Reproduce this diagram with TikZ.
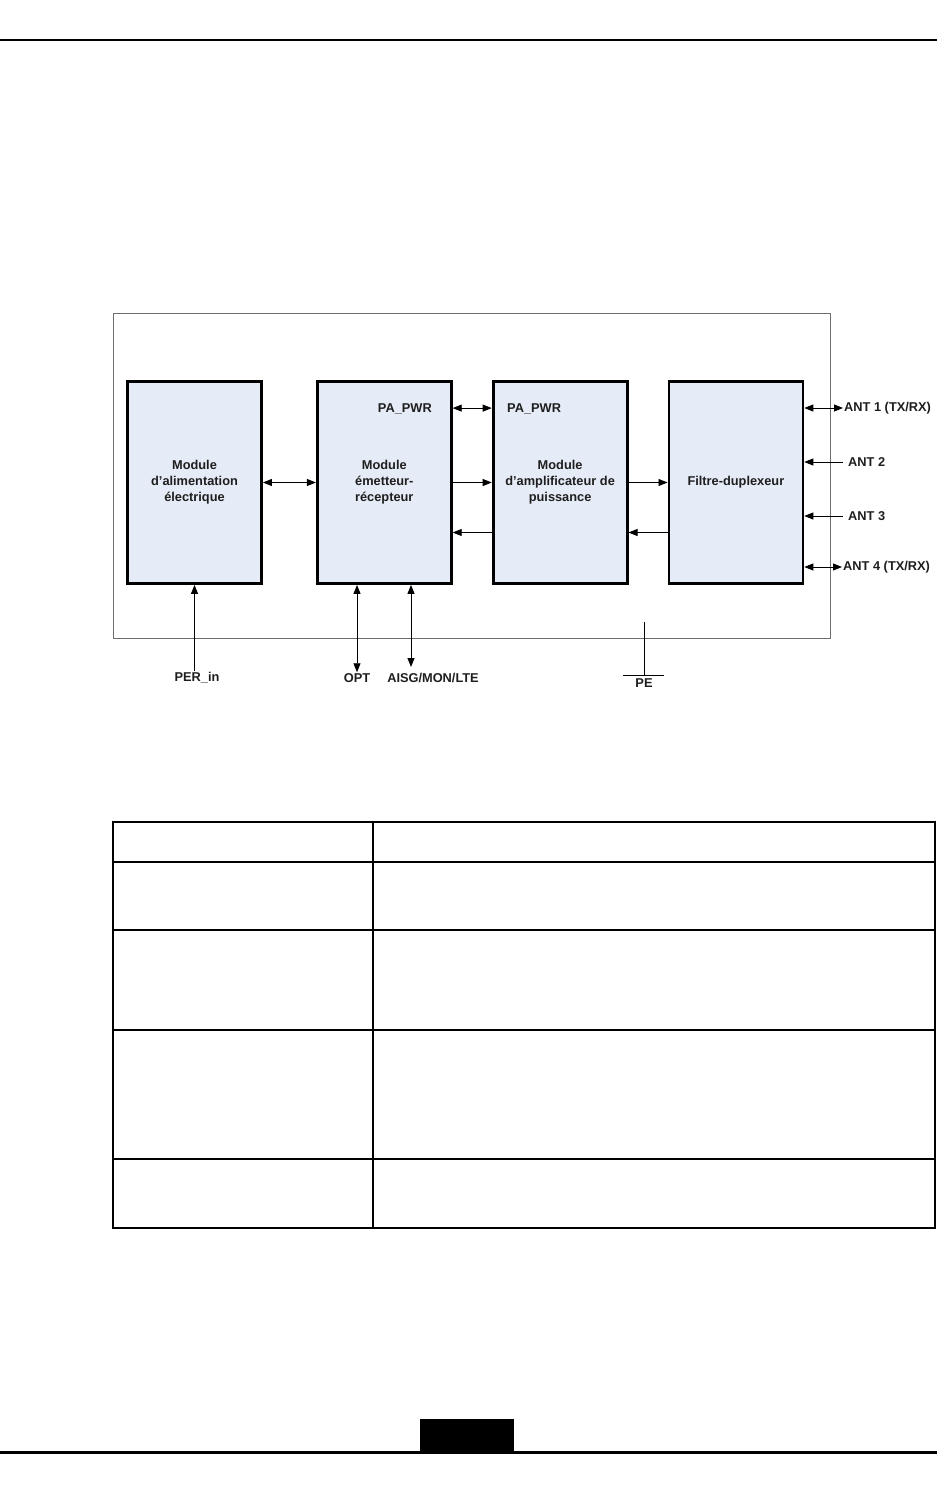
\documentclass[tikz,border=0pt]{standalone}
\usepackage{fontspec}
\setmainfont{Liberation Sans}
\usepackage{xcolor}
\usetikzlibrary{arrows.meta,positioning}
\definecolor{modfill}{HTML}{E6ECF7}
\definecolor{framegray}{HTML}{6E6E6E}
\definecolor{labeltext}{HTML}{1E1E1E}

\begin{document}
\begin{tikzpicture}[x=1pt, y=-1pt, node distance=39pt,
    every node/.style={font=\bfseries\fontsize{12.8}{16}\selectfont, text=labeltext},
    modbox/.style={draw, line width=2.8pt, fill=modfill, minimum width=134pt, minimum height=202pt, align=center},
    sig/.style={line width=0.9pt, -{Triangle[length=9pt,width=7pt]}},
    dsig/.style={line width=0.9pt, {Triangle[length=9pt,width=7pt]}-{Triangle[length=9pt,width=7pt]}},
    lbl/.style={inner sep=1pt}]
  \useasboundingbox (0,0) rectangle (937,1503);
  % page rules
  \draw[line width=2pt] (0,40) -- (937,40);
  \draw[line width=3pt] (0,1452) -- (937,1452);
  \fill (420,1419) rectangle (514,1452);
  % frame
  \draw[framegray, line width=1pt] (113,313) rectangle (830,638);
  % modules
  \node[modbox] (alim) at (194.5,482.5) {Module\\d'alimentation\\électrique};
  \node[modbox, right=53pt of alim] (emet) {Module\\émetteur-\\récepteur};
  \node[modbox, right=of emet] (ampli) {Module\\d'amplificateur de\\puissance};
  \node[modbox, right=of ampli] (filtre) {Filtre-duplexeur};
  \node[lbl, anchor=east] (papwr1) at (433,409) {PA\_PWR};
  \node[lbl, anchor=west] (papwr2) at (506,409) {PA\_PWR};
  \draw[dsig] ([yshift=-28pt]emet.north east) -- ([yshift=-28pt]ampli.north west);
  \draw[dsig] (alim) -- (emet);
  \draw[sig] (emet) -- (ampli);
  \draw[sig] ([yshift=-50pt]ampli.west) -- ([yshift=-50pt]emet.east);
  \draw[sig] (ampli) -- (filtre);
  \draw[sig] ([yshift=-50pt]filtre.west) -- ([yshift=-50pt]ampli.east);
  % antennas
  \node[lbl, anchor=west] (ant1) at (843,408) {ANT 1 (TX/RX)};
  \node[lbl, anchor=west] (ant2) at (847,462) {ANT 2};
  \node[lbl, anchor=west] (ant3) at (847,516) {ANT 3};
  \node[lbl, anchor=west] (ant4) at (842,567) {ANT 4 (TX/RX)};
  \draw[dsig] (filtre.east |- ant1) -- (ant1.west);
  \draw[sig] ([xshift=-4pt]ant2.west) -- (filtre.east |- ant2);
  \draw[sig] ([xshift=-4pt]ant3.west) -- (filtre.east |- ant3);
  \draw[dsig] (filtre.east |- ant4) -- (ant4.west);
  % bottom ports
  \node[lbl] (perin) at (197,678) {PER\_in};
  \node[lbl] (opt) at (357,678) {OPT};
  \node[lbl] (aisg) at (433,678) {AISG/MON/LTE};
  \coordinate (aisgend) at (411,667);
  \draw[sig] (alim.south |- perin.north) -- (alim.south);
  \draw[dsig] (opt.north) -- (opt.north |- emet.south);
  \draw[dsig] (aisgend) -- (aisgend |- emet.south);
  % ground
  \coordinate (petop) at (644,622);
  \coordinate (pebot) at (644,675);
  \draw[line width=0.9pt] (petop) -- (pebot);
  \draw[line width=0.9pt] ([xshift=-21pt]pebot) -- ([xshift=20pt]pebot);
  \node[lbl, below=2pt of pebot] (pe) {PE};
  % table grid
  \foreach \ry in {822,862,930,1030,1159,1228}
    \draw[line width=2pt, line cap=rect] (113,\ry) -- (935,\ry);
  \foreach \cx in {113,373,935}
    \draw[line width=2pt, line cap=rect] (\cx,822) -- (\cx,1228);
\end{tikzpicture}
\end{document}
